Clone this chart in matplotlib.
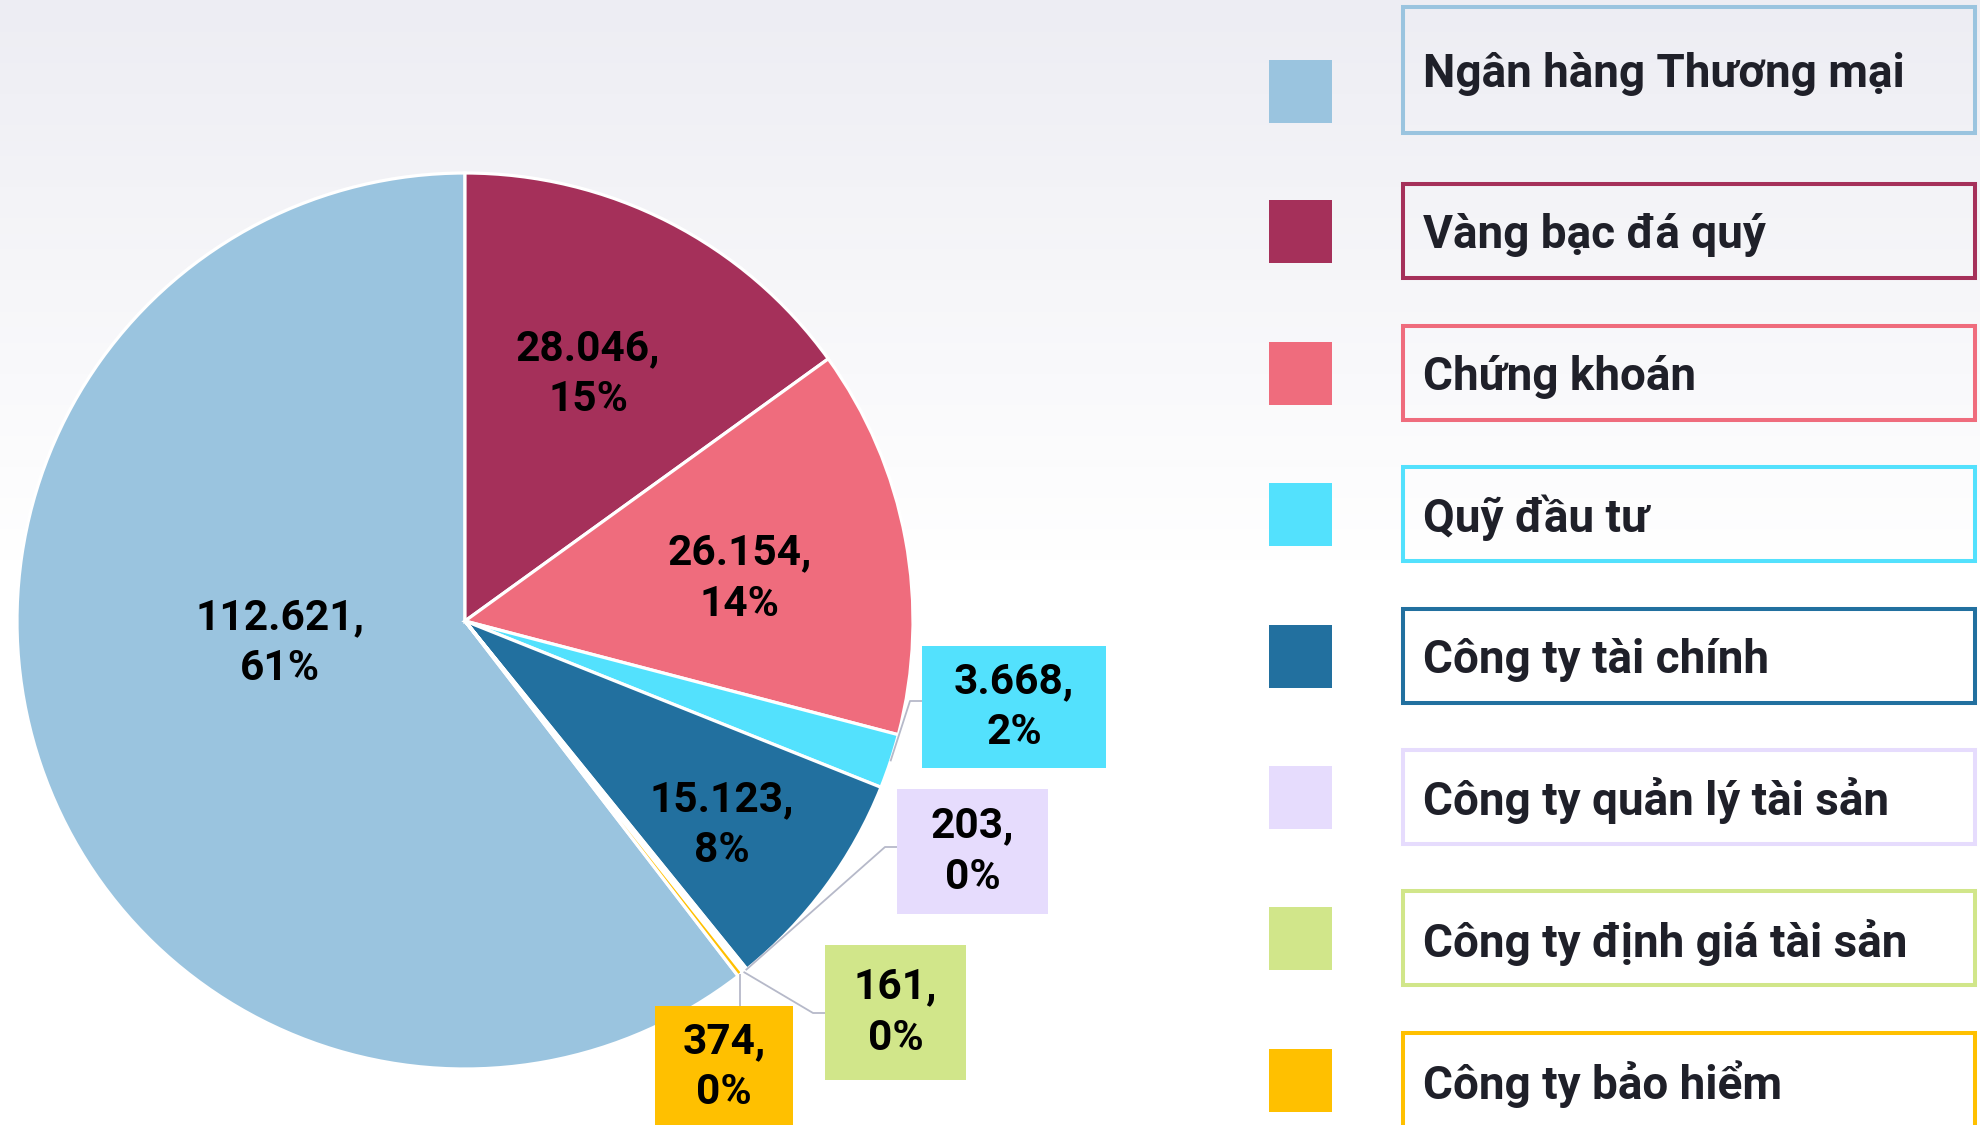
import numpy as np
import matplotlib
matplotlib.use("Agg")
import matplotlib.pyplot as plt
from matplotlib.patches import Rectangle

plt.rcParams['font.family'] = ['Roboto', 'DejaVu Sans']

# ---------------- data ----------------
categories = ["Ngân hàng Thương mại", "Vàng bạc đá quý", "Chứng khoán", "Quỹ đầu tư",
              "Công ty tài chính", "Công ty quản lý tài sản", "Công ty định giá tài sản",
              "Công ty bảo hiểm"]
values = [112621, 28046, 26154, 3668, 15123, 203, 161, 374]
pct_labels = [61, 15, 14, 2, 8, 0, 0, 0]
colors = ["#9AC4DF", "#A5305A", "#EF6C7D", "#53E1FD",
          "#22709F", "#E6DCFD", "#D1E68A", "#FFC000"]

W, H = 1980, 1125
fig = plt.figure(figsize=(W / 100, H / 100), dpi=100)
ax = fig.add_axes([0, 0, 1, 1])

def fy(y):  # convert top-down pixel to axes y
    return H - y

# background gradient
grad = np.ones((H, 1, 3))
top = np.array([237, 237, 243]) / 255.0
for i in range(H):
    t = min(i / 560.0, 1.0)
    grad[i, 0, :] = top * (1 - t) + np.array([1.0, 1.0, 1.0]) * t
ax.imshow(grad, extent=[0, W, 0, H], aspect='auto', origin='upper', zorder=0)

# pie
cx, cy, R = 465, fy(621), 448
total = sum(values)
start = 90 + 360.0 * values[0] / total
wedges, _ = ax.pie(values, colors=colors, startangle=start, counterclock=False,
                   center=(cx, cy), radius=R,
                   wedgeprops=dict(edgecolor="white", linewidth=2.3),
                   frame=True)
for w in wedges:
    w.set_zorder(2)

def fmt(v, p):
    return f"{v:,}".replace(",", ".") + ",\n" + f"{p}%"

lab_font = dict(fontsize=30.5, fontweight='bold', color='black',
                ha='center', va='center', linespacing=1.32, zorder=5)

# inside labels (radius fraction, angle tweak in degrees)
inside = {0: (0.415, -12.6), 1: (0.62, 0.8), 2: (0.62, -1.4), 4: (0.73, -1.8)}
for i, (rf, dt) in inside.items():
    w = wedges[i]
    mid = np.deg2rad((w.theta1 + w.theta2) / 2 + dt)
    ax.text(cx + rf * R * np.cos(mid), cy + rf * R * np.sin(mid) - 2,
            fmt(values[i], pct_labels[i]), **lab_font)

# outside labels: box (x0, y0_top, x1, y1_bottom), elbow, end point (top-down px)
outside = {
    3: ((922, 646, 1106, 768), (910, 701), (922, 701)),
    5: ((897, 789, 1048, 914), (885, 847), (897, 847)),
    6: ((825, 945, 966, 1080), (813, 1013), (825, 1013)),
    7: ((655, 1006, 793, 1140), (737, 1006), (737, 1006)),
}
for i, (box, elbow, end) in outside.items():
    w = wedges[i]
    mid = np.deg2rad((w.theta1 + w.theta2) / 2)
    sx, sy = cx + R * np.cos(mid), cy + R * np.sin(mid)
    if i == 7:
        xs = [sx, sx]
        ys = [sy, fy(end[1])]
    else:
        xs = [sx, elbow[0], end[0]]
        ys = [sy, fy(elbow[1]), fy(end[1])]
    ax.plot(xs, ys, color="#B6B9C9", lw=1.3, zorder=3, solid_capstyle='butt')
    x0, y0, x1, y1 = box
    ax.add_patch(Rectangle((x0, fy(y1)), x1 - x0, y1 - y0, facecolor=colors[i],
                           edgecolor='none', zorder=4))
    tcy = (y0 + min(y1, H)) / 2 if i != 7 else 1067
    ax.text((x0 + x1) / 2, fy(tcy), fmt(values[i], pct_labels[i]), **lab_font)

# legend
row_y = [92, 232, 374, 515, 657, 798, 939, 1081]
for i, name in enumerate(categories):
    yc = row_y[i]
    ax.add_patch(Rectangle((1269, fy(yc + 31)), 63, 63, facecolor=colors[i],
                           edgecolor='none', zorder=4))
    if i == 0:
        by0, by1, ty = 7, 133, 74
    else:
        by0, by1, ty = yc - 48, yc + 46, yc + 3
    ax.add_patch(Rectangle((1403, fy(by1)), 1975 - 1403, by1 - by0, facecolor='none',
                           edgecolor=colors[i], lw=2.9, zorder=4))
    ax.text(1423, fy(ty), name, fontsize=33, fontweight='bold', color="#1F2029",
            ha='left', va='center', zorder=5)

ax.set_xlim(0, W)
ax.set_ylim(0, H)
ax.set_aspect('auto')
ax.axis('off')
fig.savefig("out.png", dpi=100)
